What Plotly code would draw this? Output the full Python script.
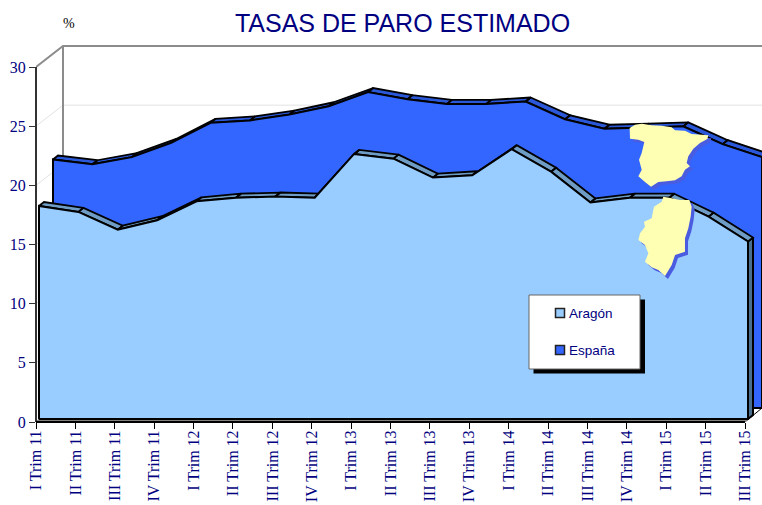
import plotly.graph_objects as go

categories = ["I Trim 11", "II Trim 11", "III Trim 11", "IV Trim 11",
              "I Trim 12", "II Trim 12", "III Trim 12", "IV Trim 12",
              "I Trim 13", "II Trim 13", "III Trim 13", "IV Trim 13",
              "I Trim 14", "II Trim 14", "III Trim 14", "IV Trim 14",
              "I Trim 15", "II Trim 15", "III Trim 15"]
aragon = [18.0, 17.5, 16.0, 16.8, 18.4, 18.7, 18.8, 18.7, 22.4, 22.0,
          20.4, 20.6, 22.8, 20.9, 18.3, 18.7, 18.7, 17.1, 15.0]
espana = [21.0, 20.6, 21.2, 22.4, 24.1, 24.3, 24.8, 25.5, 26.7, 26.1,
          25.7, 25.7, 25.9, 24.4, 23.6, 23.7, 23.8, 22.3, 21.2]
y_ticks = [0, 5, 10, 15, 20, 25, 30]

W, H = 762, 505
L, R, T, B = 36, 745, 67, 422      # pixel frame of the value scale
PT = 40                            # top of the drawing area (wall rises above the 30 tick)
PX = 18 / (R - L)                  # data units per px, x
PY = 30 / (B - T)                  # data units per px, y
NAVY = "#000080"
idx = list(range(len(categories)))
x_end = (W - L) * PX
y_end = (B - PT) * PY


def px_paper(px, py):
    return (px - L) / (W - L), (B - py) / (B - PT)


def poly_path(points, ox, oy, dx=0, dy=0):
    parts = []
    for k, (x, y) in enumerate(points):
        xp, yp = px_paper(ox + x / 3 + dx, oy + y / 3 + dy)
        parts.append(("M" if k == 0 else "L") + f"{xp:.4f},{yp:.4f}")
    return " ".join(parts) + " Z"


def box(x0, y0, x1, y1, fill, line=None, lw=0):
    a, b = px_paper(x0, y0)
    c, d = px_paper(x1, y1)
    return dict(type="rect", xref="paper", yref="paper", x0=a, y0=b, x1=c, y1=d,
                fillcolor=fill, line=dict(color=line or fill, width=lw), layer="above")


fig = go.Figure()


def add_poly(xs, ys, fill, line="black", lw=2, name=None):
    fig.add_trace(go.Scatter(x=xs, y=ys, mode="lines", fill="toself", fillcolor=fill,
                             line=dict(color=line, width=lw),
                             hoverinfo="skip", showlegend=False, name=name))


def add_line(xs, ys, color, lw):
    fig.add_trace(go.Scatter(x=xs, y=ys, mode="lines", line=dict(color=color, width=lw),
                             hoverinfo="skip", showlegend=False))


# back wall and side wall
wx, wy = 27 * PX, 21 * PY
for v in y_ticks[1:-1]:
    add_line([0, wx, x_end], [v, v + wy, v + wy], "#e2e2e2", 1)
add_line([0, wx, x_end], [30, 30 + wy, 30 + wy], "#8c8c8c", 2)
add_line([wx, wx], [0 + wy, 30 + wy], "#8c8c8c", 2)

# floor
add_line([18, 18 + 17 * PX], [0, 14 * PY], "black", 1)
fx, fy = 3 * PX, 3 * PY
add_poly([0, 18, 18 + fx, fx, 0], [0, 0, fy, fy, 0], "#808080", "#808080", 1)


def add_series(values, ox, oy, face, band, side, name):
    ox, oy = ox * PX, oy * PY
    dx, dy = 5 * PX, 4 * PY
    xs = [i + ox for i in idx]
    ys = [v + oy for v in values]
    # right end and top bands
    add_poly([xs[-1], xs[-1] + dx, xs[-1] + dx, xs[-1], xs[-1]],
             [ys[-1], ys[-1] + dy, oy + dy, oy, ys[-1]], side)
    bx, by = [], []
    for i in idx[:-1]:
        bx += [xs[i], xs[i + 1], xs[i + 1] + dx, xs[i] + dx, xs[i], None]
        by += [ys[i], ys[i + 1], ys[i + 1] + dy, ys[i] + dy, ys[i], None]
    add_poly(bx, by, band, lw=1.8)
    # front face
    add_poly([xs[0]] + xs + [xs[-1], xs[0]], [oy] + ys + [oy, oy], face, lw=2, name=name)


add_series(espana, 17, 14, "#3366ff", "#2b58d8", "#2b58d8", "España")
add_series(aragon, 3, 3, "#99ccff", "#6f9cc4", "#4b6f8f", "Aragón")

# map silhouettes (zoom-crop coordinates)
spain_map = [(14, 30), (30, 20), (50, 17), (80, 22), (110, 23), (140, 28), (150, 37), (180, 38), (200, 48),
             (250, 52), (247, 63), (225, 75), (205, 92), (190, 115), (185, 135), (195, 145), (180, 155),
             (170, 175), (150, 187), (125, 190), (100, 192), (78, 206), (60, 192), (40, 175), (50, 155),
             (42, 125), (50, 105), (58, 72), (40, 65), (15, 62)]
aragon_map = [(100, 20), (125, 25), (150, 30), (178, 30), (185, 50), (182, 80), (175, 115), (165, 145),
              (165, 185), (135, 195), (125, 225), (105, 258), (85, 240), (65, 232), (45, 215), (55, 190),
              (45, 165), (25, 150), (30, 130), (45, 110), (42, 95), (65, 85), (72, 50), (95, 35)]
shapes = []

# axis lines stop at the last tick, so they are drawn to the ends of the scale
shapes.append(dict(type="line", xref="paper", yref="y", x0=0, x1=0, y0=0, y1=30,
                   line=dict(color="#333333", width=2), layer="above"))
shapes.append(dict(type="line", xref="x", yref="paper", x0=0, x1=18, y0=0, y1=0,
                   line=dict(color="black", width=2), layer="above"))

for outline, ox, oy, off in ((spain_map, 625, 118, 3), (aragon_map, 630, 190, 3)):
    shapes.append(dict(type="path", xref="paper", yref="paper", path=poly_path(outline, ox, oy, off, off),
                       fillcolor="#4a5ce0", line=dict(width=0), layer="above"))
    shapes.append(dict(type="path", xref="paper", yref="paper", path=poly_path(outline, ox, oy),
                       fillcolor="#ffffb3", line=dict(width=0), layer="above"))

# legend panel
shapes.append(box(533.5, 299.5, 645, 373.5, "black"))
shapes.append(box(529, 295, 640, 369, "white", "#666666", 1))
legend_rows = [("Aragón", "#99ccff", 313), ("España", "#3366ff", 350)]
px0, py0 = px_paper(69, 23)
annotations = [dict(text="%", x=px0, y=py0, xref="paper", yref="paper", showarrow=False,
                    font=dict(family="Liberation Serif", size=14, color="#000000"),
                    xanchor="center", yanchor="middle")]
for label, color, row_y in legend_rows:
    shapes.append(box(555.5, row_y - 4.5, 564.5, row_y + 4.5, color, "#222222", 1.5))
    ax, ay = px_paper(569, row_y)
    annotations.append(dict(text=label, x=ax, y=ay, xref="paper", yref="paper", showarrow=False,
                            xanchor="left", yanchor="middle", xshift=-2,
                            font=dict(family="Liberation Sans", size=13.5, color=NAVY)))

fig.update_layout(
    width=W, height=H, autosize=False,
    margin=dict(l=L, r=0, t=PT, b=H - B, pad=0),
    paper_bgcolor="white", plot_bgcolor="rgba(0,0,0,0)",
    showlegend=False, shapes=shapes, annotations=annotations,
    title=dict(text="TASAS DE PARO ESTIMADO", x=402.5 / W, y=1 - 23 / H, xref="container", yref="container",
               xanchor="center", yanchor="middle",
               font=dict(family="Liberation Sans", size=25, color=NAVY)),
    xaxis=dict(range=[0, x_end], tickmode="array", tickvals=idx, ticktext=categories, tickangle=-90,
               ticks="outside", ticklen=6, tickcolor="black", tickwidth=1, showgrid=False, zeroline=False,
               showline=False, automargin=False, ticklabelstandoff=-5,
               tickfont=dict(family="Liberation Serif", size=16, color=NAVY)),
    yaxis=dict(range=[0, y_end], tickmode="array", tickvals=y_ticks, ticks="outside", ticklen=6,
               tickcolor="#333333", tickwidth=1, showgrid=False, zeroline=False,
               showline=False, automargin=False,
               tickfont=dict(family="Liberation Serif", size=16, color=NAVY)),
)

fig.write_html("out.html", config={"displayModeBar": False},
               post_script="document.body.style.margin='0';document.body.style.overflow='hidden';")
